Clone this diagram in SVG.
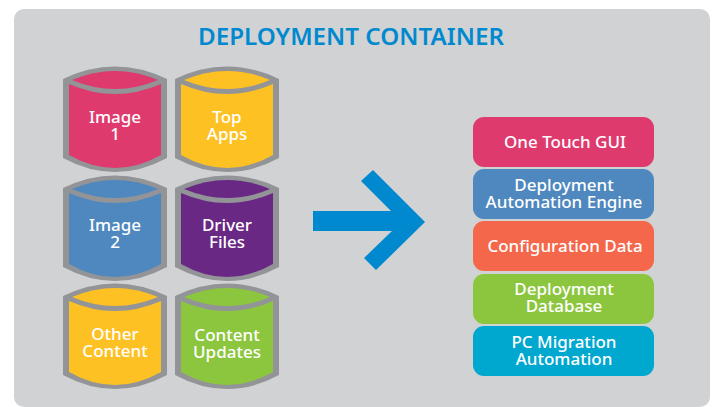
<svg xmlns="http://www.w3.org/2000/svg" width="714" height="407" viewBox="0 0 714 407">
<style>
text{font-family:"Noto Sans","Lato",sans-serif;font-weight:500;fill:#fff;font-size:17px;text-anchor:middle}
.title{fill:#0089cf;font-size:24.2px;font-weight:600}
.rim{fill:#929497}
.pink{fill:#de3a6e}.yellow{fill:#fec124}.blue{fill:#4e88be}.purple{fill:#6a2885}.green{fill:#8cc63f}.orange{fill:#f4674a}.cyan{fill:#00a7cf}
</style>
<defs>
<path id="rim" d="M0,13 Q52,-12 104,13 V92 Q52,120 0,92 Z"/>
<path id="lens" d="M9,14 Q52,-4 95,14 Q52,32 9,14 Z"/>
<path id="body" d="M6,18 Q52,38 98,18 V89 Q52,115 6,89 Z"/>
</defs>
<rect width="714" height="407" fill="#fff"/>
<rect x="14" y="9" width="696" height="398" rx="10" fill="#d1d2d4"/>
<text class="title" x="351" y="45">DEPLOYMENT CONTAINER</text>
<g id="cyl-image1" transform="translate(63,66)"><use href="#rim" class="rim"/><use href="#lens" class="pink"/><use href="#body" class="pink"/><text x="52" y="57">Image</text><text x="52" y="74">1</text></g>
<g id="cyl-topapps" transform="translate(175,66)"><use href="#rim" class="rim"/><use href="#lens" class="yellow"/><use href="#body" class="yellow"/><text x="52" y="57">Top</text><text x="52" y="74">Apps</text></g>
<g id="cyl-image2" transform="translate(63,175)"><use href="#rim" class="rim"/><use href="#lens" class="blue"/><use href="#body" class="blue"/><text x="52" y="56">Image</text><text x="52" y="73">2</text></g>
<g id="cyl-driver" transform="translate(175,175)"><use href="#rim" class="rim"/><use href="#lens" class="purple"/><use href="#body" class="purple"/><text x="52" y="56">Driver</text><text x="52" y="73">Files</text></g>
<g id="cyl-other" transform="translate(63,283)"><use href="#rim" class="rim"/><use href="#lens" class="yellow"/><use href="#body" class="yellow"/><text x="52" y="57">Other</text><text x="52" y="74">Content</text></g>
<g id="cyl-updates" transform="translate(175,283)"><use href="#rim" class="rim"/><use href="#lens" class="green"/><use href="#body" class="green"/><text x="52" y="58">Content</text><text x="52" y="75">Updates</text></g>
<g id="connectors"><polygon points="313,211 391,211 361,181 373,170 425,222 376,270 364,258 392,231 313,231" fill="#0089cf"/></g>
<g id="box-gui"><rect x="473" y="117" width="181" height="50" rx="11" class="pink"/><text x="565" y="148">One Touch GUI</text></g>
<g id="box-engine"><rect x="473" y="169" width="181" height="50" rx="11" class="blue"/><text x="564" y="191">Deployment</text><text x="564" y="208">Automation Engine</text></g>
<g id="box-config"><rect x="473" y="221" width="181" height="50" rx="11" class="orange"/><text x="565" y="252">Configuration Data</text></g>
<g id="box-database"><rect x="473" y="274" width="181" height="50" rx="11" class="green"/><text x="564" y="295">Deployment</text><text x="564" y="312">Database</text></g>
<g id="box-migration"><rect x="473" y="326" width="181" height="50" rx="11" class="cyan"/><text x="564" y="348">PC Migration</text><text x="564" y="365">Automation</text></g>
</svg>
